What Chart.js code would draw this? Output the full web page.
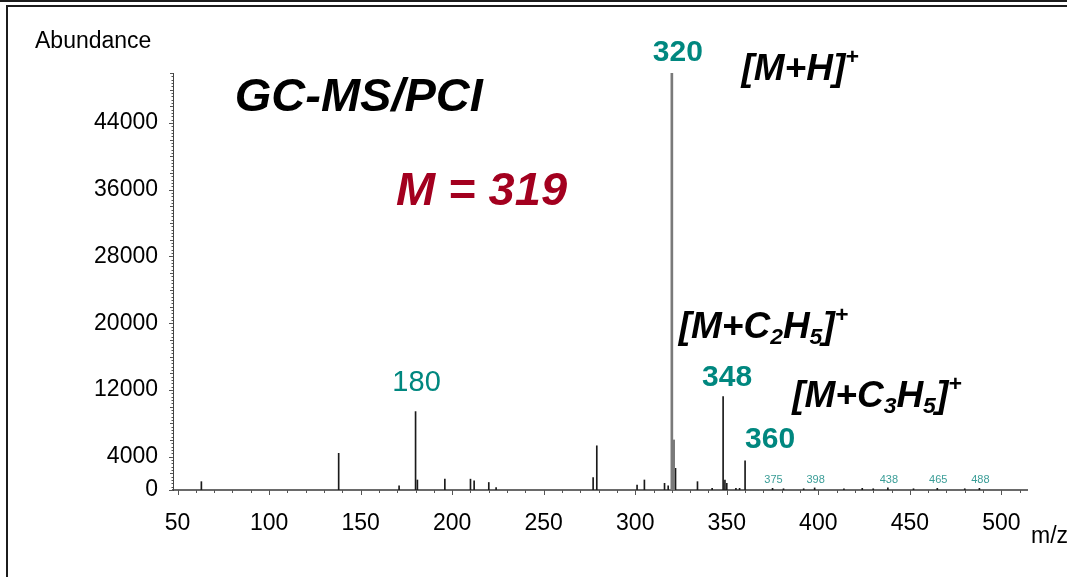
<!DOCTYPE html>
<html>
<head>
<meta charset="utf-8">
<title>GC-MS/PCI</title>
<script src="https://cdn.jsdelivr.net/npm/chart.js@4.4.1/dist/chart.umd.min.js"></script>
<style>
    html, body { margin: 0; padding: 0; background: #fff; }
    #wrap { position: relative; width: 1067px; height: 577px; overflow: hidden; }
    #wrap canvas { position: absolute; left: 0; top: 0; }
    .rule { position: absolute; background: #1c1c1c; }
</style>
</head>
<body>
<div id="wrap">
    <canvas id="spectrum" width="1067" height="577"></canvas>
    <div class="rule" style="left:0;top:0;width:1067px;height:2px;"></div>
    <div class="rule" style="left:6px;top:5px;width:1061px;height:2px;"></div>
    <div class="rule" style="left:6px;top:5px;width:2px;height:572px;"></div>
</div>
<script>
/**
 * Spectrum data
 */
// strongest ions, drawn a bit heavier
const mainMz = [320, 321];
const mainAbundance = [50000, 6000];

// remaining ions
const ionMz = [63, 138, 171, 180, 181, 196, 210, 212, 220, 224,
    277, 279, 301, 305, 316, 318, 322, 334, 342,
    348, 349, 350, 355, 357, 360,
    375, 381, 392, 398, 414, 424, 430, 438, 452, 465, 480, 488];
const ionAbundance = [1000, 4400, 500, 9400, 1200, 1300, 1300, 1100, 900, 300,
    1500, 5300, 600, 1200, 800, 500, 2600, 1000, 200,
    11200, 1200, 800, 200, 200, 3500,
    200, 150, 150, 250, 150, 200, 150, 250, 150, 200, 150, 200];

const xTicks = [50, 100, 150, 200, 250, 300, 350, 400, 450, 500];
const yTicks = [0, 4000, 12000, 20000, 28000, 36000, 44000];

// peak labels: big ones above their peak, small ones sit just over the baseline
const bigPeakLabels = ["320", "348", "360", "180"];
const smallPeakLabels = ["375", "398", "438", "465", "488"];

const FAMILY = "'Liberation Sans', Arial, Helvetica, sans-serif";
const TEAL = "#00877f";
const TEAL_LIGHT = "#3a9d97";
const DARK_RED = "#a3001f";

function toPoints(xs, ys) {
    return xs.map((x, i) => ({ x: x, y: ys[i] }));
}

function abundanceOf(mz) {
    let i = mainMz.indexOf(mz);
    if (i >= 0) return mainAbundance[i];
    i = ionMz.indexOf(mz);
    return i >= 0 ? ionAbundance[i] : 0;
}

/**
 * Text helpers
 */
function richWidth(ctx, parts, size) {
    let w = 0;
    for (const p of parts) {
        const s = (p.sub || p.sup) ? size * 0.62 : size;
        ctx.font = "italic bold " + s + "px " + FAMILY;
        w += ctx.measureText(p.t).width;
    }
    return w;
}

function drawRich(ctx, parts, cx, baseline, size, color) {
    let x = cx - richWidth(ctx, parts, size) / 2;
    ctx.fillStyle = color;
    ctx.textAlign = "left";
    ctx.textBaseline = "alphabetic";
    for (const p of parts) {
        const s = (p.sub || p.sup) ? size * 0.62 : size;
        const dy = p.sub ? size * 0.16 : (p.sup ? -size * 0.42 : 0);
        ctx.font = "italic bold " + s + "px " + FAMILY;
        ctx.fillText(p.t, x, baseline + dy);
        x += ctx.measureText(p.t).width;
    }
}

// ion annotations, anchored in m/z / abundance space
const ionNotes = [
    { at: [149, 45400], size: 47, color: "#000", parts: [{ t: "GC-MS/PCI" }] },
    { at: [216, 34200], size: 47, color: DARK_RED, parts: [{ t: "M = 319" }] },
    { at: [390, 49200], size: 37, color: "#000", parts: [{ t: "[M+H]" }, { t: "+", sup: true }] },
    { at: [370, 18240], size: 37, color: "#000", parts: [{ t: "[M+C" }, { t: "2", sub: true }, { t: "H" }, { t: "5", sub: true }, { t: "]" }, { t: "+", sup: true }] },
    { at: [432, 9960], size: 37, color: "#000", parts: [{ t: "[M+C" }, { t: "3", sub: true }, { t: "H" }, { t: "5", sub: true }, { t: "]" }, { t: "+", sup: true }] }
];

const annotations = {
    id: "annotations",
    afterDatasetsDraw(chart) {
        const { ctx, scales: { x, y } } = chart;
        ctx.save();

        for (const note of ionNotes) {
            drawRich(ctx, note.parts, x.getPixelForValue(note.at[0]), y.getPixelForValue(note.at[1]), note.size, note.color);
        }

        // big peak labels
        const bigStyle = {
            "320": { dx: 6, dy: -20, bold: true, size: 30 },
            "348": { dx: 4, dy: -19, bold: true, size: 30 },
            "360": { dx: 25, dy: -21, bold: true, size: 30 },
            "180": { dx: 1, dy: -29, bold: false, size: 29 }
        };
        ctx.textAlign = "center";
        ctx.textBaseline = "middle";
        ctx.fillStyle = TEAL;
        for (const label of bigPeakLabels) {
            const mz = Number(label);
            const st = bigStyle[label];
            ctx.font = (st.bold ? "bold " : "") + st.size + "px " + FAMILY;
            ctx.fillText(label, x.getPixelForValue(mz) + st.dx, y.getPixelForValue(abundanceOf(mz)) + st.dy);
        }

        ctx.font = "11px " + FAMILY;
        ctx.fillStyle = TEAL_LIGHT;
        for (const label of smallPeakLabels) {
            ctx.fillText(label, x.getPixelForValue(Number(label)) + 1, y.getPixelForValue(0) - 10);
        }

        // axis titles
        ctx.fillStyle = "#000";
        ctx.textAlign = "left";
        ctx.textBaseline = "alphabetic";
        ctx.font = "23px " + FAMILY;
        ctx.fillText("Abundance", 35, 48);
        ctx.fillText("m/z", 1031, 543);

        ctx.restore();
    }
};

/**
 * Minor tick marks on both axes
 */
const X_MINOR_STEP = 10;
const Y_MINOR_STEP = 400;
const Y_MID_STEP = 2000;

const minorTicks = {
    id: "minorTicks",
    afterDraw(chart) {
        const { ctx, chartArea, scales: { x, y } } = chart;
        ctx.save();
        ctx.strokeStyle = "#555";
        ctx.lineWidth = 1;
        ctx.beginPath();
        for (let m = xTicks[0]; m <= x.max; m += X_MINOR_STEP) {
            const px = Math.round(x.getPixelForValue(m)) + 0.5;
            const len = xTicks.includes(m) ? 5 : 3;
            ctx.moveTo(px, chartArea.bottom);
            ctx.lineTo(px, chartArea.bottom + len);
        }
        for (let v = 0; v <= y.max; v += Y_MINOR_STEP) {
            const py = Math.round(y.getPixelForValue(v)) + 0.5;
            const len = yTicks.includes(v) ? 4 : (v % Y_MID_STEP === 0 ? 3 : 1.5);
            ctx.moveTo(chartArea.left, py);
            ctx.lineTo(chartArea.left - len, py);
        }
        ctx.stroke();
        ctx.restore();
    }
};

/**
 * Chart
 */
Chart.defaults.font.family = FAMILY;
Chart.defaults.color = "#000";

const spectrumChart = new Chart(document.getElementById("spectrum"), {
    type: "bar",
    data: {
        datasets: [
            {
                label: "main",
                data: toPoints(mainMz, mainAbundance),
                backgroundColor: "#7a7a7a",
                barThickness: 2,
                grouped: false
            },
            {
                label: "ions",
                data: toPoints(ionMz, ionAbundance),
                backgroundColor: "#1a1a1a",
                barThickness: 1,
                grouped: false
            }
        ]
    },
    options: {
        responsive: false,
        devicePixelRatio: 1,
        animation: false,
        layout: {
            padding: { top: 73, right: 40, bottom: 0, left: 0 }
        },
        plugins: {
            legend: { display: false },
            tooltip: { enabled: false }
        },
        scales: {
            x: {
                type: "linear",
                min: 47.5,
                max: 514,
                offset: false,
                grid: { display: false, drawTicks: false },
                border: { display: true, color: "#6a6a6a", width: 2 },
                ticks: {
                    autoSkip: false,
                    maxRotation: 0,
                    padding: 20,
                    font: { size: 23 },
                    callback: (value) => String(value)
                },
                afterBuildTicks: (scale) => {
                    scale.ticks = xTicks.map(v => ({ value: v }));
                },
                afterFit: (scale) => {
                    scale.height = 87;
                }
            },
            y: {
                min: 0,
                max: 50000,
                grid: { display: false, drawTicks: false },
                border: { display: true, color: "#444", width: 1 },
                ticks: {
                    padding: 15,
                    font: { size: 23 },
                    callback: (value) => String(value)
                },
                afterBuildTicks: (scale) => {
                    scale.ticks = yTicks.map(v => ({ value: v }));
                },
                afterFit: (scale) => {
                    scale.width = 173;
                }
            }
        }
    },
    plugins: [minorTicks, annotations]
});
</script>
</body>
</html>
